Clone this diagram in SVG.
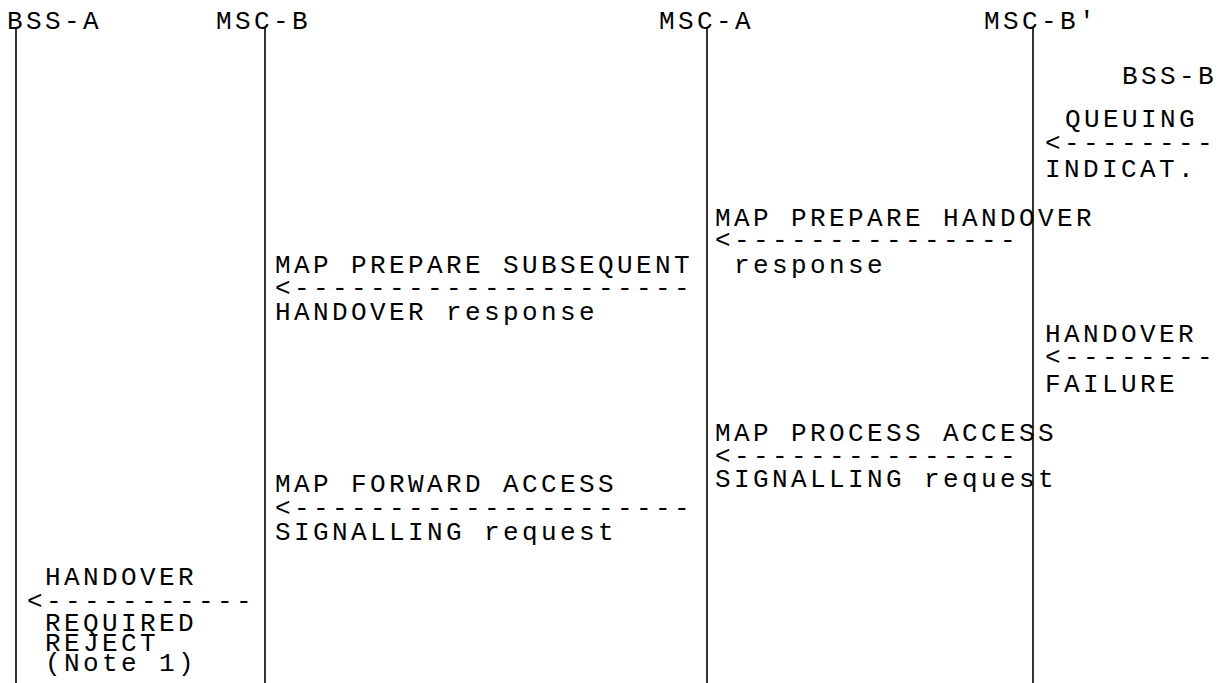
<svg xmlns="http://www.w3.org/2000/svg" width="1221" height="683" viewBox="0 0 1221 683">
<style>
text{font-family:"Courier New","Liberation Mono",monospace;font-size:26px;letter-spacing:3.4px;fill:#000;white-space:pre}
.life{stroke:#000;stroke-width:1.6;fill:none}
</style>
<rect width="1221" height="683" fill="#fff"/>
<g id="lifelines">
<line class="life" x1="16" y1="28" x2="16" y2="683"/>
<line class="life" x1="265" y1="28" x2="265" y2="683"/>
<line class="life" x1="707" y1="28" x2="707" y2="683"/>
<line class="life" x1="1033" y1="28" x2="1033" y2="683"/>
</g>
<g id="BSS-A"><text x="7" y="29">BSS-A</text></g>
<g id="MSC-B"><text x="216" y="29">MSC-B</text></g>
<g id="MSC-A"><text x="659" y="29">MSC-A</text></g>
<g id="MSC-Bp"><text x="984" y="29">MSC-B'</text></g>
<g id="BSS-B"><text x="1122" y="84">BSS-B</text></g>
<g id="connectors">
<g id="m1"><text x="1065" y="127">QUEUING</text><text x="1045" y="151">&lt;--------</text><text x="1045" y="177">INDICAT.</text></g>
<g id="m2"><text x="715" y="226">MAP PREPARE HANDOVER</text><text x="715" y="248">&lt;---------------</text><text x="734" y="273">response</text></g>
<g id="m3"><text x="275" y="273">MAP PREPARE SUBSEQUENT</text><text x="275" y="296">&lt;---------------------</text><text x="275" y="320">HANDOVER response</text></g>
<g id="m4"><text x="1045" y="342">HANDOVER</text><text x="1045" y="365">&lt;--------</text><text x="1045" y="392">FAILURE</text></g>
<g id="m5"><text x="715" y="441">MAP PROCESS ACCESS</text><text x="715" y="464">&lt;---------------</text><text x="715" y="487">SIGNALLING request</text></g>
<g id="m6"><text x="275" y="492">MAP FORWARD ACCESS</text><text x="275" y="516">&lt;---------------------</text><text x="275" y="540">SIGNALLING request</text></g>
<g id="m7"><text x="45" y="585">HANDOVER</text><text x="27" y="609">&lt;-----------</text><text x="45" y="631">REQUIRED</text><text x="45" y="651">REJECT</text><text x="45" y="671">(Note 1)</text></g>
</g>
</svg>
